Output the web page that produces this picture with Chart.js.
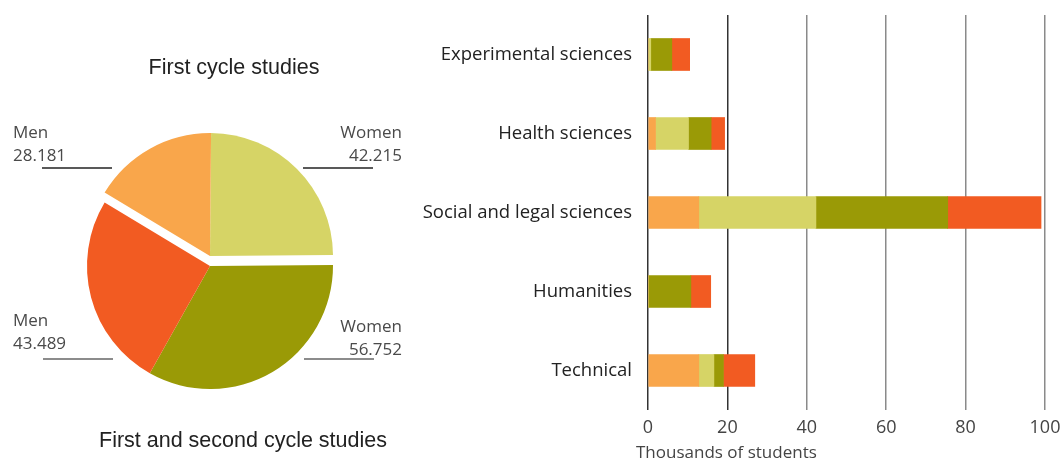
<!DOCTYPE html>
<html>
<head>
<meta charset="utf-8">
<title>Students by field of study</title>
<script src="https://cdn.jsdelivr.net/npm/chart.js@4.4.1/dist/chart.umd.min.js"></script>
<style>
  html, body { margin: 0; padding: 0; background: #fff; }
  body { width: 1061px; height: 462px; position: relative; overflow: hidden; }
  #pieChart { position: absolute; left: 0; top: 0; }
  #barChart { position: absolute; left: 400px; top: 0; }
</style>
</head>
<body>
<canvas id="pieChart" width="420" height="462"></canvas>
<canvas id="barChart" width="661" height="462"></canvas>
<script>
"use strict"

// Cirkeln: studenter per cykel och kön (tusental)
const pieLabels = ['Women', 'Women', 'Men', 'Men'];
const pieValues = [42.215, 56.752, 43.489, 28.181];
const pieCycle = [0, 1, 1, 0]; // 0 = first cycle, 1 = first and second cycle
const cycleTitles = ['First cycle studies', 'First and second cycle studies'];

// Staplarna: studieområde, staplat per cykel och kön
const fields = ['Experimental sciences', 'Health sciences', 'Social and legal sciences', 'Humanities', 'Technical'];
const firstCycleMen = [0, 1.9, 12.8, 0, 12.8];
const firstCycleWomen = [0.7, 8.3, 29.5, 0, 3.8];
const secondCycleWomen = [5.3, 5.7, 33.2, 10.8, 2.4];
const secondCycleMen = [4.5, 3.4, 23.5, 5.0, 7.9];
const xTicks = [0, 20, 40, 60, 80, 100];
const xTitle = 'Thousands of students';

const FONT = '"Open Sans", "Liberation Sans", sans-serif';
const TITLE_FONT = '"Liberation Sans", Arial, sans-serif';
const colors = {
    firstMen: '#f9a64b',
    firstWomen: '#d6d466',
    secondWomen: '#9a9a06',
    secondMen: '#f25b22'
};

// Var etiketterna till cirkeln hamnar
const pieLabelLayout = [
    { x: 402, y: 133, align: 'right', line: [303, 373, 168], lineColor: '#222' },
    { x: 402, y: 327, align: 'right', line: [304, 374, 359], lineColor: '#666' },
    { x: 13, y: 321, align: 'left', line: [43, 113, 359], lineColor: '#666' },
    { x: 13, y: 133, align: 'left', line: [42, 112, 168], lineColor: '#222' }
];

/**
 * Lyfter första cykelns tårtbitar uppåt.
 */
const liftFirstCycle = {
    id: 'liftFirstCycle',
    beforeDatasetDraw(chart, args) {
        const ctx = chart.ctx;
        args.meta.data.forEach((arc, i) => {
            ctx.save();
            if (pieCycle[i] === 0) ctx.translate(0, -10);
            arc.draw(ctx);
            ctx.restore();
        });
        return false;
    }
};

/**
 * Ritar etiketter och rubriker runt cirkeln.
 */
const pieText = {
    id: 'pieText',
    afterDraw(chart) {
        const ctx = chart.ctx;
        ctx.save();
        ctx.textBaseline = 'middle';
        ctx.font = '17px ' + FONT;
        ctx.fillStyle = '#4a4a4a';
        pieLabelLayout.forEach((p, i) => {
            ctx.textAlign = p.align;
            ctx.fillText(pieLabels[i], p.x, p.y);
            ctx.fillText(pieValues[i].toFixed(3), p.x, p.y + 23);
            ctx.strokeStyle = p.lineColor;
            ctx.lineWidth = 1.5;
            ctx.beginPath();
            ctx.moveTo(p.line[0], p.line[2]);
            ctx.lineTo(p.line[1], p.line[2]);
            ctx.stroke();
        });
        ctx.textAlign = 'center';
        ctx.fillStyle = '#222';
        ctx.font = '21.5px ' + TITLE_FONT;
        ctx.fillText(cycleTitles[0], 234, 68);
        ctx.fillText(cycleTitles[1], 243, 441);
        ctx.restore();
    }
};

/**
 * Axeltitel under x-axeln.
 */
const axisTitle = {
    id: 'axisTitle',
    afterDraw(chart) {
        const ctx = chart.ctx;
        ctx.save();
        ctx.font = '17px ' + FONT;
        ctx.fillStyle = '#444';
        ctx.textAlign = 'left';
        ctx.textBaseline = 'middle';
        ctx.fillText(xTitle, chart.scales.x.left - 12, 453);
        ctx.restore();
    }
};

function createPieChart() {
    new Chart(document.getElementById('pieChart'), {
        type: 'pie',
        data: {
            labels: pieLabels,
            datasets: [{
                data: pieValues,
                backgroundColor: [colors.firstWomen, colors.secondWomen, colors.secondMen, colors.firstMen],
                borderWidth: 0
            }]
        },
        options: {
            responsive: false,
            animation: false,
            rotation: 0.5,
            layout: { padding: { left: 87, right: 87, top: 143, bottom: 73 } },
            plugins: {
                legend: { display: false },
                tooltip: { enabled: false }
            }
        },
        plugins: [liftFirstCycle, pieText]
    });
}

function createBarChart() {
    new Chart(document.getElementById('barChart'), {
        type: 'bar',
        data: {
            labels: fields,
            datasets: [
                { label: 'First cycle, men', data: firstCycleMen, backgroundColor: colors.firstMen },
                { label: 'First cycle, women', data: firstCycleWomen, backgroundColor: colors.firstWomen },
                { label: 'First and second cycle, women', data: secondCycleWomen, backgroundColor: colors.secondWomen },
                { label: 'First and second cycle, men', data: secondCycleMen, backgroundColor: colors.secondMen }
            ]
        },
        options: {
            indexAxis: 'y',
            responsive: false,
            animation: false,
            layout: { padding: { top: 15, right: 16, bottom: 0, left: 0 } },
            datasets: { bar: { barThickness: 32, borderWidth: 0 } },
            plugins: {
                legend: { display: false },
                tooltip: { enabled: false }
            },
            scales: {
                x: {
                    stacked: true,
                    min: 0,
                    max: 100,
                    afterBuildTicks: s => { s.ticks = xTicks.map(v => ({ value: v })); },
                    grid: {
                        color: c => c.index <= 1 ? '#333' : '#8a8a8a',
                        lineWidth: 1.5,
                        drawTicks: false
                    },
                    border: { display: false },
                    ticks: { padding: 7, color: '#444', font: { family: FONT, size: 18 } },
                    afterFit: s => { s.height = 52; s.paddingLeft = 0; s.paddingRight = 0; }
                },
                y: {
                    stacked: true,
                    grid: { display: false },
                    border: { display: false },
                    ticks: { padding: 8, color: '#222', font: { family: FONT, size: 18.5 } },
                    afterFit: s => { s.width = 248; s.paddingTop = 0; s.paddingBottom = 0; }
                }
            }
        },
        plugins: [axisTitle]
    });
}

createPieChart();
createBarChart();
</script>
</body>
</html>
